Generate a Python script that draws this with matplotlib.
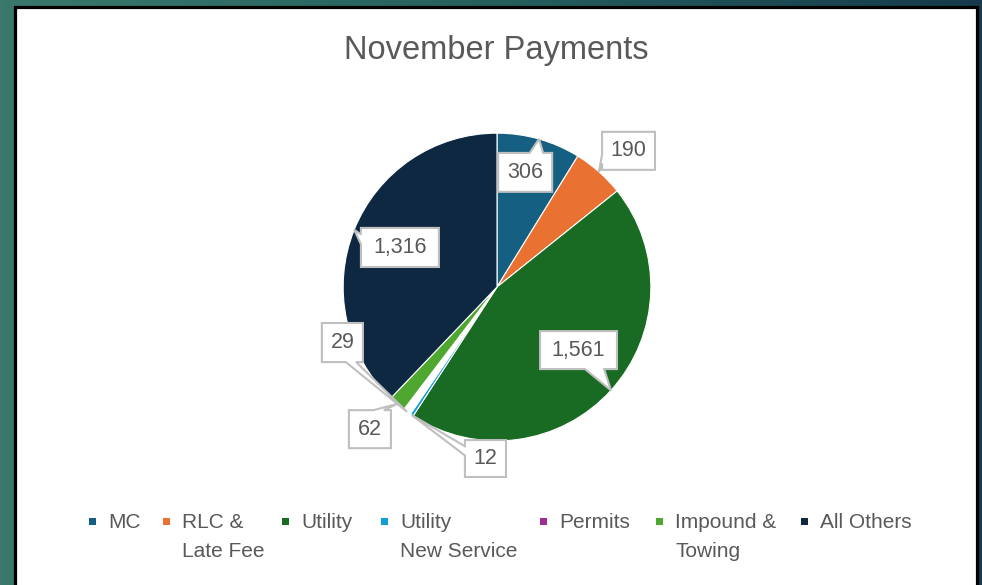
import numpy as np
import matplotlib
matplotlib.use("Agg")
import matplotlib.pyplot as plt
from matplotlib.patches import Rectangle, Polygon
from matplotlib.colors import LinearSegmentedColormap

# ---------------- data ----------------
categories = ["MC", "RLC &\nLate Fee", "Utility", "Utility\nNew Service",
              "Permits", "Impound &\nTowing", "All Others"]
payments = [306, 190, 1561, 12, 29, 62, 1316]
value_labels = ["306", "190", "1,561", "12", "29", "62", "1,316"]
title = "November Payments"

# ---------------- style ----------------
colors = ["#156082", "#E97132", "#196B24", "#0F9ED5", "#A02B93", "#4EA72E", "#0E2841"]
# the Permits slice appears without fill in the reference
wedge_colors = [c if name != "Permits" else "white" for c, name in zip(colors, categories)]
text_grey = "#595959"
box_grey = "#BFBFBF"

W, H = 982, 585
fig = plt.figure(figsize=(W / 100, H / 100), dpi=100)

# background (teal gradient) + chart area
bg = fig.add_axes([0, 0, 1, 1])
bg.set_xlim(0, W)
bg.set_ylim(H, 0)
bg.axis("off")
cmap = LinearSegmentedColormap.from_list("bg", ["#3a786c", "#25605e", "#163a4b"])
grad = np.linspace(0, 1, 256)[None, :]
bg.imshow(grad, extent=[0, W, H, 0], aspect="auto", cmap=cmap, zorder=0)
bg.add_patch(Rectangle((15.5, 6.5), 962, 600, facecolor="white",
                       edgecolor="black", linewidth=2.3, zorder=1))

# title
fig.text(496.5 / W, 1 - 50 / H, title, ha="center", va="center",
         fontsize=23.5, color=text_grey, family=["Liberation Sans", "DejaVu Sans"])

# ---------------- pie ----------------
cx_px, cy_px, half = 497, 287, 160
ax = fig.add_axes([(cx_px - half) / W, (H - cy_px - half) / H, 2 * half / W, 2 * half / H])
lim = 1.04
wedges, _ = ax.pie(payments, colors=wedge_colors, startangle=90, counterclock=False,
                   radius=1.0, wedgeprops=dict(edgecolor="white", linewidth=0.8))
ax.set_xlim(-lim, lim)
ax.set_ylim(-lim, lim)
ax.set_aspect("equal")
ax.axis("off")

# callout boxes: (center x, center y, width, height) in pie units
label_boxes = [
    (0.183, 0.745, 0.351, 0.253),
    (0.855, 0.885, 0.344, 0.247),
    (0.530, -0.410, 0.500, 0.247),
    (-0.075, -1.115, 0.267, 0.240),
    (-1.005, -0.361, 0.267, 0.254),
    (-0.826, -0.924, 0.273, 0.247),
    (-0.631, 0.257, 0.507, 0.254),
]


def callout(ax, cx, cy, w, h, tip, text):
    l, r = cx - w / 2, cx + w / 2
    b, t = cy - h / 2, cy + h / 2
    dx, dy = tip[0] - cx, tip[1] - cy
    dq = dx * h / w
    if abs(dy) > abs(dq):
        if dx > 0:
            xa, xb = l + w * 7 / 12, l + w * 10 / 12
        else:
            xa, xb = l + w * 2 / 12, l + w * 5 / 12
        if dy > 0:
            verts = [(l, b), (l, t), (xa, t), tip, (xb, t), (r, t), (r, b)]
        else:
            verts = [(l, b), (xa, b), tip, (xb, b), (r, b), (r, t), (l, t)]
    else:
        if dy < 0:
            ya, yb = t - h * 7 / 12, t - h * 10 / 12
        else:
            ya, yb = t - h * 2 / 12, t - h * 5 / 12
        if dx < 0:
            verts = [(l, b), (l, yb), tip, (l, ya), (l, t), (r, t), (r, b)]
        else:
            verts = [(l, b), (r, b), (r, yb), tip, (r, ya), (r, t), (l, t)]
    ax.add_patch(Polygon(verts, closed=True, facecolor="white", edgecolor=box_grey,
                         linewidth=1.5, zorder=5, clip_on=False, joinstyle="miter"))
    ax.text(cx, cy, text, ha="center", va="center", fontsize=15.5, color=text_grey,
            family=["Liberation Sans", "DejaVu Sans"], zorder=6, clip_on=False)


for wdg, txt, (bx, by, bw, bh) in zip(wedges, value_labels, label_boxes):
    mid = np.deg2rad((wdg.theta1 + wdg.theta2) / 2)
    tip = (1.0 * np.cos(mid), 1.0 * np.sin(mid))
    callout(ax, bx, by, bw, bh, tip, txt)

# ---------------- legend ----------------
legend_text_x = [108, 182, 301, 400, 559, 675, 820]
row_baselines = [528, 557]
marker_y = 521.5
for name, col, tx in zip(categories, colors, legend_text_x):
    bg.add_patch(Rectangle((tx - 15 - 3.5, marker_y - 3.5), 7, 7, facecolor=col,
                           edgecolor="none", zorder=3))
    for i, line in enumerate(name.split("\n")):
        fig.text(tx / W, 1 - row_baselines[i] / H, line, ha="left", va="baseline",
                 fontsize=15, color=text_grey, family=["Liberation Sans", "DejaVu Sans"])

fig.savefig("out.png", dpi=100)
